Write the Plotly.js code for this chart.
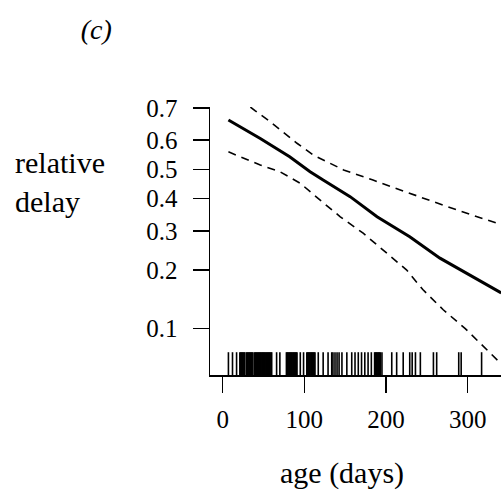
<!DOCTYPE html>
<html><head><meta charset="utf-8">
<script src="https://cdn.plot.ly/plotly-3.0.1.min.js"></script>
<style>html,body{margin:0;padding:0;background:#fff;overflow:hidden}</style>
</head><body><div id="chart" style="width:501px;height:490px"></div>
<script>
// fitted relative delay (solid) and pointwise confidence band (dashed)
const fitAge   = [7, 46, 82, 107, 123, 156, 189, 209, 229, 266, 307, 331, 341];
const fitDelay = [0.664, 0.605, 0.543, 0.492, 0.463, 0.407, 0.342, 0.312, 0.283, 0.227, 0.185, 0.162, 0.154];
const upperAge   = [7, 39.5, 58, 91, 111, 148, 184, 217, 258, 299, 337, 341];
const upperDelay = [0.75, 0.692, 0.659, 0.589, 0.549, 0.498, 0.463, 0.429, 0.39, 0.353, 0.322, 0.318];
const lowerAge   = [7, 46, 70, 95, 119, 144, 172, 197, 225, 245, 270, 297, 321, 333, 341];
const lowerDelay = [0.56, 0.515, 0.492, 0.452, 0.396, 0.342, 0.293, 0.247, 0.2, 0.16, 0.126, 0.1, 0.078, 0.069, 0.064];
// rug of observed ages
const rugAge = [7, 12, 17, 21, 22, 23, 24, 25, 26, 27, 29, 30, 31, 32, 33, 34, 35, 36, 37, 39, 40, 41, 42, 43, 44, 45, 46, 47,
  48, 49, 50, 51, 52, 53, 54, 55, 56, 57, 58, 59, 60,
  66, 70, 78, 79, 80, 81, 82, 83, 84, 85, 86, 87, 88, 89, 90, 91, 95, 99, 103, 104, 105, 106, 107, 108, 109, 110, 111, 112, 113, 117, 123, 129, 133.5,
  135, 137.5, 140, 142.5, 146, 152, 158, 162, 166, 170, 174, 178, 182, 186, 187, 188, 189, 190, 191, 192, 193, 195, 207, 213, 221, 229, 232, 236,
  242, 258, 262, 289, 292, 317];
const xTicks = [0, 100, 200, 300];
const yTicks = [0.1, 0.2, 0.3, 0.4, 0.5, 0.6, 0.7];
const yTickText = ['0.1', '0.2', '0.3', '0.4', '0.5', '0.6', '0.7'];

const logit = p => Math.log(p / (1 - p));
const FONT = 'Liberation Serif, Times New Roman, serif';

const traces = [
  {x: fitAge, y: fitDelay.map(logit), mode: 'lines', line: {color: '#000', width: 3}, hoverinfo: 'skip'},
  {x: upperAge, y: upperDelay.map(logit), mode: 'lines', line: {color: '#000', width: 1.6, dash: '8px,6px'}, hoverinfo: 'skip'},
  {x: lowerAge, y: lowerDelay.map(logit), mode: 'lines', line: {color: '#000', width: 1.6, dash: '8px,6px'}, hoverinfo: 'skip'},
  {x: rugAge, y: rugAge.map(() => 0.0354), yaxis: 'y2', mode: 'markers',
   marker: {symbol: 'line-ns', size: 19, color: '#000', line: {width: 1.6, color: '#000'}}, hoverinfo: 'skip'}
];

const layout = {
  width: 501, height: 490,
  margin: {l: 210, r: 0, t: 107, b: 115},
  paper_bgcolor: '#fff', plot_bgcolor: '#fff',
  showlegend: false,
  font: {family: FONT, color: '#000'},
  title: {text: '<i>(c)</i>', font: {family: FONT, size: 28, color: '#000'},
          x: 0.192, xref: 'container', xanchor: 'center', y: 0.941, yref: 'container', yanchor: 'middle'},
  xaxis: {range: [-15.55, 340.75], tickvals: xTicks, ticktext: xTicks.map(String),
          ticks: 'outside', ticklen: 16, tickwidth: 1.5, tickcolor: '#000',
          showline: true, linewidth: 1.5, linecolor: '#000', showgrid: false, zeroline: false,
          tickfont: {family: FONT, size: 25, color: '#000'}, ticklabelstandoff: 5},
  yaxis: {range: [-2.837, 0.86], tickvals: yTicks.map(logit), ticktext: yTickText,
          ticks: 'outside', ticklen: 16, tickwidth: 1.5, tickcolor: '#000',
          showline: true, linewidth: 1.5, linecolor: '#000', showgrid: false, zeroline: false,
          tickfont: {family: FONT, size: 25, color: '#000'}, ticklabelstandoff: 10},
  yaxis2: {overlaying: 'y', range: [0, 1], visible: false, fixedrange: true},
  annotations: [
    {text: 'relative<br>delay', xref: 'paper', yref: 'paper', x: -0.677, y: 0.72,
     xanchor: 'left', yanchor: 'middle', align: 'left', showarrow: false,
     font: {family: FONT, size: 30, color: '#000'}},
    {text: 'age (days)', xref: 'paper', yref: 'paper', x: 0.455, y: -0.366,
     xanchor: 'center', yanchor: 'middle', showarrow: false,
     font: {family: FONT, size: 30, color: '#000'}}
  ]
};

Plotly.newPlot('chart', traces, layout, {staticPlot: true, displayModeBar: false});
</script>
</body></html>
